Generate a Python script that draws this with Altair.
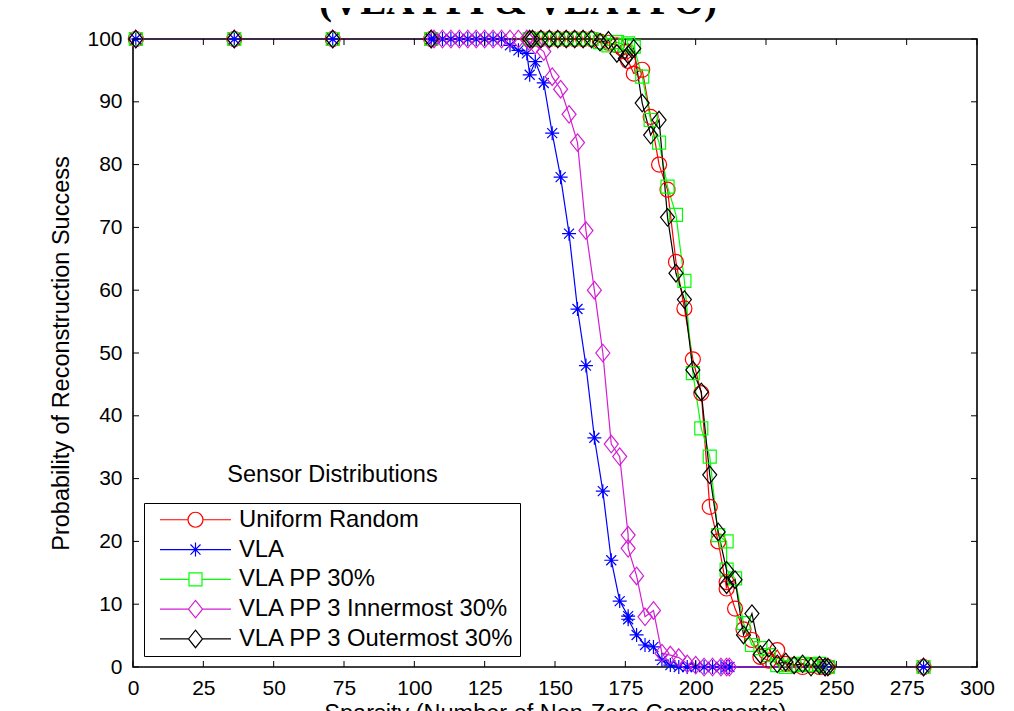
import altair as alt
import pandas as pd

# ---------------- data ----------------
SERIES = ["Uniform Random", "VLA", "VLA PP 30%",
          "VLA PP 3 Innermost 30%", "VLA PP 3 Outermost 30%"]
COLORS = ["#ff0000", "#0000ff", "#00ff00", "#d21ed2", "#000000"]

X_TICKS = [0, 25, 50, 75, 100, 125, 150, 175, 200, 225, 250, 275, 300]
Y_TICKS = [0, 10, 20, 30, 40, 50, 60, 70, 80, 90, 100]

# sparsity grid used by Uniform Random / VLA PP 30% / Outermost
X_GROUP_A = [1, 36, 71, 106, 141, 142, 145, 148, 151, 154, 157, 160, 163,
             166, 169, 172, 175, 176, 178, 181, 184, 187, 190, 193, 196, 199,
             202, 205, 208, 211, 211, 214, 217, 220, 223, 226, 229, 232, 235,
             238, 241, 244, 246, 247, 281]
# sparsity grid used by VLA / Innermost
X_GROUP_B = [1, 36, 71, 106, 107, 110, 113, 116, 119, 122, 125, 128, 131,
             134, 137, 140, 141, 143, 146, 149, 152, 155, 158, 161, 164, 167,
             170, 173, 176, 176, 179, 182, 185, 188, 191, 194, 197, 200, 203,
             206, 209, 211, 212, 246, 281]

Y_UR = [100, 100, 100, 100, 100, 100, 100, 100, 100, 100, 100, 100, 100,
        99.6, 99.4, 99.0, 98.0, 96.5, 94.5, 95.1, 87.6, 80.0, 76.0, 64.5,
        57.1, 49.0, 43.6, 25.5, 20.0, 12.5, 13.5, 9.3, 6.0, 4.3, 1.6, 1.0,
        2.7, 0.5, 0.3, 0.0, 0.3, 0.0, 0.0, 0.0, 0.0]
Y_VLA = [100, 100, 100, 100, 100, 100, 100, 100, 100, 100, 100, 100, 100,
         99.0, 98.2, 97.7, 94.3, 96.4, 93.0, 85.0, 78.0, 69.0, 57.0, 48.0,
         36.5, 28.0, 17.0, 10.5, 8.1, 7.6, 5.1, 3.5, 3.2, 1.1, 0.3, 0.0,
         0.0, 0.0, 0.0, 0.0, 0.0, 0.0, 0.0, 0.0, 0.0]
Y_PP30 = [100, 100, 100, 100, 100, 100, 100, 100, 100, 100, 100, 100, 100,
          99.5, 99.0, 99.5, 99.0, 99.3, 98.8, 94.0, 87.1, 83.5, 76.5, 72.0,
          61.5, 46.8, 38.0, 33.5, 21.0, 20.0, 15.5, 14.1, 7.0, 3.5, 3.0, 1.9,
          0.3, 0.0, 0.3, 0.5, 0.3, 0.5, 0.0, 0.0, 0.0]
Y_INNER = [100, 100, 100, 100, 100, 100, 100, 100, 100, 100, 100, 100, 100,
           100, 100, 100, 99.5, 99.0, 98.0, 94.0, 92.0, 88.0, 83.5, 69.5,
           60.0, 50.0, 35.5, 33.5, 21.0, 18.9, 14.5, 8.0, 9.0, 2.2, 1.9, 1.5,
           0.5, 0.3, 0.0, 0.0, 0.0, 0.0, 0.0, 0.0, 0.0]
Y_OUTER = [100, 100, 100, 100, 100, 100, 100, 100, 100, 100, 100, 100, 100,
           99.5, 99.8, 97.7, 96.9, 97.5, 98.5, 89.8, 84.7, 87.1, 71.6, 62.7,
           58.5, 47.3, 43.8, 30.6, 21.5, 15.4, 13.1, 13.9, 5.1, 8.5, 2.0, 3.0,
           0.5, 0.8, 0.3, 0.5, 0.0, 0.3, 0.0, 0.0, 0.0]

X_LISTS = [X_GROUP_A, X_GROUP_B, X_GROUP_A, X_GROUP_B, X_GROUP_A]
Y_LISTS = [Y_UR, Y_VLA, Y_PP30, Y_INNER, Y_OUTER]

TITLE = "(VLA PPI & VLA PPO)"
X_TITLE = "Sparsity (Number of Non-Zero Components)"
Y_TITLE = "Probability of Reconstruction Success"
LEGEND_TITLE = ["Sensor Distributions"]

# ---------------- marker shapes (style) ----------------
MARKER_PATHS = [
    "M1.5,0A1.5,1.5,0,1,1,-1.5,0A1.5,1.5,0,1,1,1.5,0Z",
    "M-1.4,0L1.4,0M0,-1.4L0,1.4M-1,-1L1,1M-1,1L1,-1",
    "M-1.3,-1.3L1.3,-1.3L1.3,1.3L-1.3,1.3Z",
    "M0,-1.75L1.4,0L0,1.75L-1.4,0Z",
    "M0,-1.75L1.4,0L0,1.75L-1.4,0Z",
]
LEGEND_PATHS = [
    "M-1,0L-0.211,0M0.211,0L1,0M0.211,0A0.211,0.211,0,1,1,-0.211,0A0.211,0.211,0,1,1,0.211,0",
    "M-1,0L1,0M0,-0.197L0,0.197M-0.141,-0.141L0.141,0.141M-0.141,0.141L0.141,-0.141",
    "M-1,0L-0.183,0M0.183,0L1,0M-0.183,-0.183L0.183,-0.183L0.183,0.183L-0.183,0.183Z",
    "M-1,0L-0.197,0M0.197,0L1,0M0,-0.246L0.197,0L0,0.246L-0.197,0Z",
    "M-1,0L-0.197,0M0.197,0L1,0M0,-0.246L0.197,0L0,0.246L-0.197,0Z",
]

rows = []
idx = 0
for name, xs, ys in zip(SERIES, X_LISTS, Y_LISTS):
    for xv, yv in zip(xs, ys):
        rows.append({"series": name, "x": xv, "y": yv, "idx": idx})
        idx += 1
df = pd.DataFrame(rows)

W, H = 844, 628
FONT = "Liberation Sans"

x_scale = alt.Scale(domain=[0, 300], nice=False, zero=False)
y_scale = alt.Scale(domain=[0, 100], nice=False, zero=False)

x_axis = alt.Axis(values=X_TICKS, title=X_TITLE, ticks=False, domain=False,
                  grid=False, labelPadding=10, titlePadding=3,
                  labelFontSize=21, titleFontSize=23.5, labelFlush=False,
                  labelOverlap=False)
y_axis = alt.Axis(values=Y_TICKS, title=Y_TITLE, ticks=False, domain=False,
                  grid=False, labelPadding=11, titlePadding=13,
                  labelFontSize=21, titleFontSize=23.5, labelOverlap=False)

color_plain = alt.Color("series:N", scale=alt.Scale(domain=SERIES, range=COLORS),
                        legend=None)

lines = alt.Chart(df).mark_line(strokeWidth=1.2).encode(
    x=alt.X("x:Q", scale=x_scale, axis=x_axis),
    y=alt.Y("y:Q", scale=y_scale, axis=y_axis),
    color=color_plain,
    order=alt.Order("idx:Q"),
)

points = alt.Chart(df).mark_point(filled=False, size=100, strokeWidth=1.2,
                                  opacity=1).encode(
    x=alt.X("x:Q", scale=x_scale, axis=x_axis),
    y=alt.Y("y:Q", scale=y_scale, axis=y_axis),
    color=color_plain,
    shape=alt.Shape("series:N", scale=alt.Scale(domain=SERIES, range=MARKER_PATHS),
                    legend=None),
    order=alt.Order("idx:Q"),
)

leg = alt.Legend(title=None, orient="none", legendX=11, legendY=464,
                 strokeColor="black", fillColor="white", padding=5,
                 symbolOffset=10, labelOffset=7, rowPadding=4.8,
                 clipHeight=23.5,
                 symbolSize=5041, symbolStrokeWidth=1.2, symbolOpacity=1,
                 labelFontSize=23.8, labelFont=FONT, labelColor="black",
                 labelLimit=0)

legend_layer = alt.Chart(pd.DataFrame({"series": SERIES})).mark_point(
    filled=False, size=5041, strokeWidth=1.2).encode(
    color=alt.Color("series:N", scale=alt.Scale(domain=SERIES, range=COLORS),
                    legend=leg),
    shape=alt.Shape("series:N", scale=alt.Scale(domain=SERIES, range=LEGEND_PATHS),
                    legend=leg),
).transform_filter("datum.series == 'none'")

xt = pd.DataFrame({"t": X_TICKS})
yt = pd.DataFrame({"t": Y_TICKS})
TL = 6
bottom_ticks = alt.Chart(xt).mark_rule(color="black", strokeWidth=1).encode(
    x=alt.X("t:Q", scale=x_scale, axis=x_axis),
    y=alt.value(H), y2=alt.value(H - TL))
top_ticks = alt.Chart(xt).mark_rule(color="black", strokeWidth=1).encode(
    x=alt.X("t:Q", scale=x_scale, axis=x_axis),
    y=alt.value(0), y2=alt.value(TL))
left_ticks = alt.Chart(yt).mark_rule(color="black", strokeWidth=1).encode(
    y=alt.Y("t:Q", scale=y_scale, axis=y_axis),
    x=alt.value(0), x2=alt.value(TL))
right_ticks = alt.Chart(yt).mark_rule(color="black", strokeWidth=1).encode(
    y=alt.Y("t:Q", scale=y_scale, axis=y_axis),
    x=alt.value(W), x2=alt.value(W - TL))

ann = alt.Chart(pd.DataFrame({"label": LEGEND_TITLE})).mark_text(
    font=FONT, fontSize=23.5, color="black", align="center", baseline="middle"
).encode(text="label:N", x=alt.value(199.5), y=alt.value(436))

chart = alt.layer(
    lines, points, top_ticks, bottom_ticks, left_ticks, right_ticks,
    ann, legend_layer
).resolve_scale(
    color="independent", shape="independent"
).properties(
    width=W, height=H,
    title=alt.TitleParams(TITLE, font="Liberation Serif", fontSize=39,
                          fontWeight="bold", color="black", anchor="middle",
                          frame="group", baseline="alphabetic", offset=-25,
                          dx=-37),
    padding={"left": 125, "top": 31, "right": 29, "bottom": 44},
    autosize=alt.AutoSizeParams(type="none"),
).configure_view(
    stroke="black", strokeWidth=1.6
).configure_axis(
    labelFont=FONT, titleFont=FONT, labelColor="black", titleColor="black",
    titleFontWeight="normal"
).configure_legend(
    labelFont=FONT
)

chart.save("out.html", embed_options={"renderer": "svg", "actions": False})
